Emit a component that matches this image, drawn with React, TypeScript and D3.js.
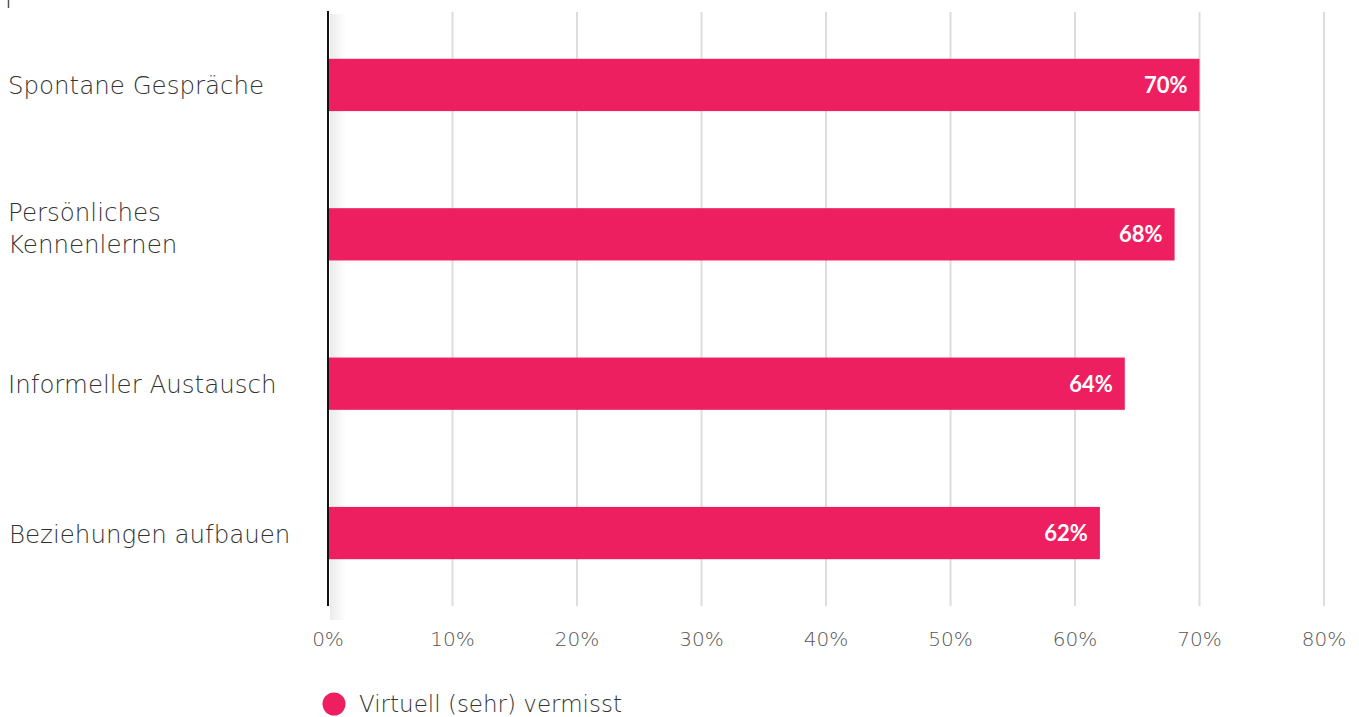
import React from "react";
import * as d3 from "d3";

const categories: string[][] = [
  ["Spontane Gespräche"],
  ["Persönliches", "Kennenlernen"],
  ["Informeller Austausch"],
  ["Beziehungen aufbauen"],
];
const values: number[] = [70, 68, 64, 62];
const ticks: number[] = [0, 10, 20, 30, 40, 50, 60, 70, 80];
const seriesName = "Virtuell (sehr) vermisst";
const barColor = "#EE1F60";
const FONT = "'DejaVu Sans', 'Open Sans', sans-serif";

const W = 1359;
const H = 717;

export default function App() {
  const x = d3.scaleLinear().domain([0, 80]).range([328, 1324]);
  const y = d3
    .scaleBand<number>()
    .domain(d3.range(categories.length))
    .range([11, 607])
    .paddingInner(0.65)
    .paddingOuter(0.32);
  const bw = y.bandwidth();
  return (
    <svg
      width={W}
      height={H}
      style={{ position: "absolute", left: 0, top: 0, background: "#fff" }}
    >
      <defs>
        <linearGradient id="shadow" x1="0" x2="1" y1="0" y2="0">
          <stop offset="0" stopColor="#000" stopOpacity="0.08" />
          <stop offset="1" stopColor="#000" stopOpacity="0" />
        </linearGradient>
      </defs>
      <line x1={8.5} x2={8.5} y1={0} y2={8} stroke="#555" strokeWidth={1.5} />
      {ticks.slice(1).map((t) => (
        <line
          key={t}
          x1={x(t)}
          x2={x(t)}
          y1={12}
          y2={606}
          stroke="#ddd"
          strokeWidth={2}
        />
      ))}
      <rect x={330} y={14} width={16} height={606} fill="url(#shadow)" />
      {values.map((v, i) => (
        <g key={i}>
          <rect
            x={x(0) + 1}
            y={y(i)}
            width={x(v) - x(0) - 1}
            height={bw}
            fill={barColor}
          />
          <text
            x={x(v) - 12}
            y={(y(i) as number) + bw / 2 + 8}
            textAnchor="end"
            fill="#fff"
            fontFamily="Lato, 'Open Sans', sans-serif"
            fontWeight={700}
            fontSize={22}
          >
            {v}%
          </text>
        </g>
      ))}
      <line x1={328} x2={328} y1={11} y2={606} stroke="#111" strokeWidth={2} />
      {categories.map((lines, i) => {
        const cy = (y(i) as number) + bw / 2;
        const n = lines.length;
        return (
          <text
            key={i}
            fill="#333"
            fontFamily={FONT}
            fontWeight={200}
            fontSize={24.5}
          >
            {lines.map((l, j) => (
              <tspan
                key={j}
                x={i === 3 ? 9 : 8}
                y={cy + 9.5 - (n - 1) * 22.5 + j * 32}
              >
                {l}
              </tspan>
            ))}
          </text>
        );
      })}
      {ticks.map((t) => (
        <text
          key={t}
          x={x(t)}
          y={646}
          textAnchor="middle"
          fill="#555"
          fontFamily={FONT}
          fontWeight={200}
          fontSize={20}
        >
          {t}%
        </text>
      ))}
      <circle cx={334} cy={704} r={11.5} fill={barColor} />
      <text
        x={359}
        y={712}
        fill="#333"
        fontFamily={FONT}
        fontWeight={200}
        fontSize={23}
      >
        {seriesName}
      </text>
    </svg>
  );
}
